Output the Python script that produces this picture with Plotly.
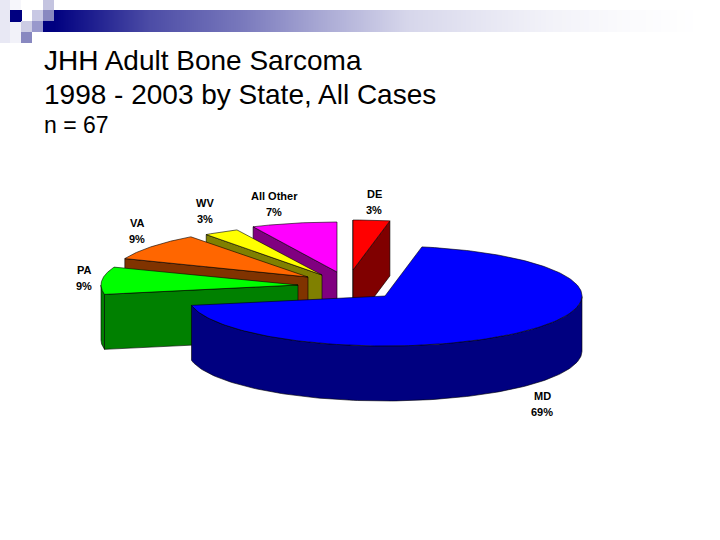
import numpy as np
import plotly.graph_objects as go

# values
states = ["MD", "PA", "VA", "WV", "All Other", "DE"]
shares = [69, 9, 9, 3, 7, 3]
top_colors = ["#0000ff", "#00ff00", "#ff6600", "#ffff00", "#ff00ff", "#ff0000"]
side_colors = ["#000080", "#008000", "#803300", "#808000", "#800080", "#800000"]

title_lines = ["JHH Adult Bone Sarcoma", "1998 - 2003 by State, All Cases"]
subtitle = "n = 67"

# pie is laid out in slide pixels, each slice has its own exploded centre
RX, RY, DEPTH = 197, 50, 55
START = 79.2  # where MD starts, going clockwise
centres = {
    "MD": (385, 296),
    "PA": (298, 285),
    "VA": (308, 277),
    "WV": (322, 275),
    "All Other": (337, 272),
    "DE": (353, 270),
}
label_pos = {
    "MD": (542, 396),
    "PA": (84, 270),
    "VA": (137, 223),
    "WV": (205, 203),
    "All Other": (274, 196),
    "DE": (374, 194),
}

fig = go.Figure()


def poly(xs, ys, color):
    fig.add_trace(go.Scatter(x=xs, y=ys, mode="lines", fill="toself", fillcolor=color,
                             line=dict(color="#000000", width=0.6),
                             hoverinfo="skip", showlegend=False))


def pt(c, deg):
    a = np.radians(deg)
    return c[0] + RX * np.cos(a), c[1] - RY * np.sin(a)


# work out the angle range of every slice from the shares
slices = {}
hi = START
for name, share in zip(states, shares):
    lo = hi - share * 3.6
    slices[name] = (lo, hi)
    hi = lo

# header bar: navy fading to white
bar_x = [54, 150, 240, 320, 407, 480, 550, 620, 700]
bar_z = [0, 0.3, 0.47, 0.66, 0.84, 0.9, 0.95, 0.98, 1]
fig.add_trace(go.Heatmap(x=list(range(54, 721, 4)), y=[15.5, 26.5],
                         z=[list(np.interp(range(54, 721, 4), bar_x, bar_z))] * 2,
                         zmin=0, zmax=1, zsmooth="best", showscale=False, hoverinfo="skip",
                         colorscale=[[0, "#000080"], [1, "#ffffff"]]))

# header squares
squares = [
    (0, 0, 10, 43, "#e8e8f4"),
    (10, 0, 21, 10, "#f6f6fb"),
    (10, 22, 21, 43, "#f2f2f9"),
    (10, 10, 22, 22, "#000080"),
    (32, 10, 43, 21, "#c8c8e4"),
    (43, 0, 54, 10, "#c4c4e0"),
    (43, 10, 54, 21, "#8888c0"),
    (43, 21, 54, 32, "#000080"),
    (21, 21, 32, 32, "#ccccE4"),
    (32, 21, 43, 32, "#9898cc"),
    (21, 32, 32, 43, "#8888c0"),
]
for x0, y0, x1, y1, col in squares:
    fig.add_shape(type="rect", x0=x0, y0=y0, x1=x1, y1=y1, fillcolor=col, line_width=0, layer="above")

# back to front so nearer slices cover the others
for name in ["DE", "All Other", "WV", "VA", "PA", "MD"]:
    i = states.index(name)
    lo, hi = slices[name]
    c = centres[name]
    side = side_colors[i]

    # radial walls that face the viewer
    for ang, seen in [(hi, np.cos(np.radians(hi)) < 0), (lo, np.cos(np.radians(lo)) > 0)]:
        if seen:
            ox, oy = pt(c, ang)
            poly([c[0], ox, ox, c[0], c[0]], [c[1], oy, oy + DEPTH, c[1] + DEPTH, c[1]], side)

    # outer wall, only the front half of the ellipse shows
    arc = np.linspace(lo, hi, 200)
    front = arc[np.sin(np.radians(arc)) < 0]
    if len(front):
        ax, ay = pt(c, front)
        poly(list(ax) + list(ax[::-1]) + [ax[0]], list(ay) + list(ay[::-1] + DEPTH) + [ay[0]], side)

    # top face
    ax, ay = pt(c, arc)
    poly([c[0]] + list(ax) + [c[0]], [c[1]] + list(ay) + [c[1]], top_colors[i])

# slice labels
for name, share in zip(states, shares):
    lx, ly = label_pos[name]
    for dy, txt in [(0, name), (16, f"{share}%")]:
        fig.add_annotation(x=lx, y=ly + dy, text=f"<b>{txt}</b>", showarrow=False,
                           font=dict(family="Liberation Sans", size=11, color="#000000"))

# slide title
for y, txt in zip([60, 94], title_lines):
    fig.add_annotation(x=42, y=y, text=txt, showarrow=False, xanchor="left",
                       font=dict(family="Liberation Sans", size=28, color="#000000"))
fig.add_annotation(x=42, y=125, text=subtitle, showarrow=False, xanchor="left",
                   font=dict(family="Liberation Sans", size=23, color="#000000"))

fig.update_xaxes(range=[0, 720], visible=False)
fig.update_yaxes(range=[540, 0], visible=False)
fig.update_layout(width=720, height=540, margin=dict(l=0, r=0, t=0, b=0),
                  paper_bgcolor="#ffffff", plot_bgcolor="#ffffff", showlegend=False)

# page has a default body margin that would push everything 8px off
fig.write_html("out.html", config={"displayModeBar": False},
               post_script="document.body.style.margin='0';")
